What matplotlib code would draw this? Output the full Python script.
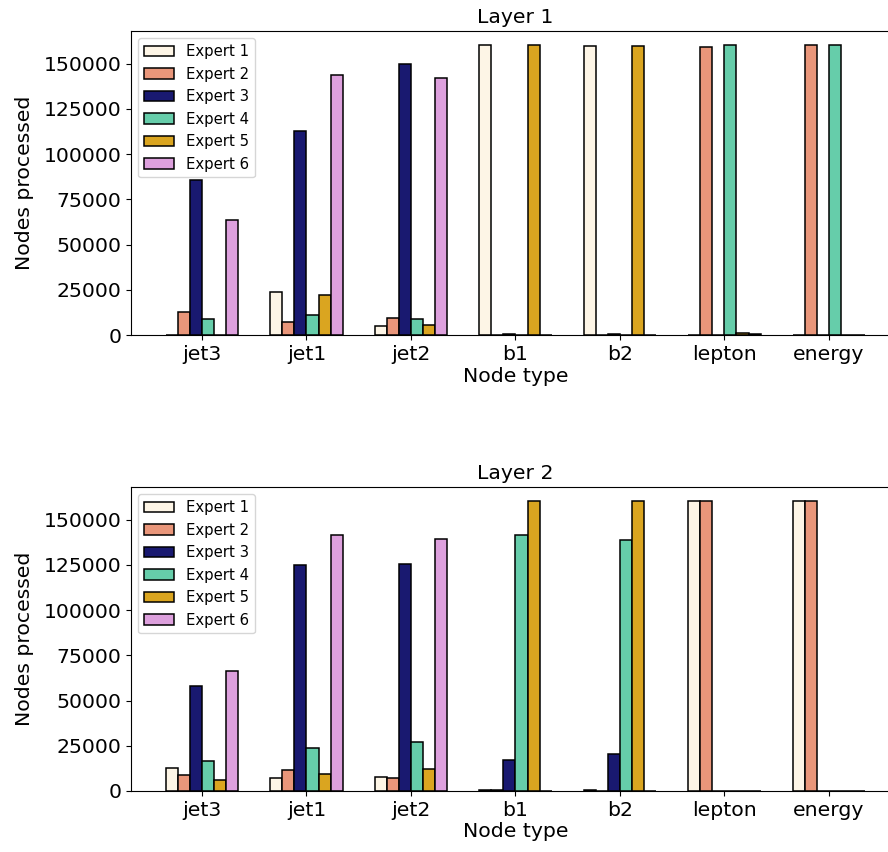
import matplotlib
matplotlib.use("Agg")
import matplotlib.pyplot as plt
import numpy as np

node_types = ["jet3", "jet1", "jet2", "b1", "b2", "lepton", "energy"]
experts = ["Expert 1", "Expert 2", "Expert 3", "Expert 4", "Expert 5", "Expert 6"]
colors = ["oldlace", "darksalmon", "midnightblue", "mediumaquamarine", "goldenrod", "plum"]

# rows: experts, columns: node types
layer1 = [
    [200, 23700, 5100, 160000, 159500, 200, 200],
    [12700, 7000, 9400, 200, 200, 159000, 160000],
    [85500, 113000, 149500, 300, 600, 200, 200],
    [9000, 11000, 8800, 200, 200, 160000, 160000],
    [200, 22000, 5500, 160000, 159500, 900, 200],
    [63500, 143500, 142000, 200, 200, 300, 200],
]
layer2 = [
    [12500, 7000, 7600, 300, 300, 160000, 160000],
    [8700, 11600, 7000, 300, 200, 160000, 160000],
    [58000, 125000, 125500, 17300, 20200, 100, 100],
    [16400, 23700, 27000, 141500, 138500, 100, 100],
    [5900, 9400, 12000, 160000, 160000, 100, 100],
    [66500, 141500, 139500, 100, 100, 100, 100],
]

FS = 14.7

def draw(ax, data, title):
    x = np.arange(len(node_types))
    w = 0.115
    for i in range(len(experts)):
        ax.bar(x + (i - 2.5) * w, data[i], w, color=colors[i],
               edgecolor="black", linewidth=1.1, label=experts[i])
    ax.set_xticks(x)
    ax.set_xticklabels(node_types)
    ax.tick_params(labelsize=FS)
    ax.set_xlabel("Node type", fontsize=FS, labelpad=2)
    ax.set_ylabel("Nodes processed", fontsize=FS, labelpad=7)
    ax.set_title(title, fontsize=FS)
    ax.legend(loc="upper left", fontsize=10.7)

fig = plt.figure(figsize=(8.88, 8.52), dpi=100)
ax1 = fig.add_axes([0.1475, 0.6068, 0.866, 0.3568])
ax2 = fig.add_axes([0.1475, 0.0716, 0.866, 0.3568])
draw(ax1, layer1, "Layer 1")
draw(ax2, layer2, "Layer 2")
fig.savefig("out.png", dpi=100)
